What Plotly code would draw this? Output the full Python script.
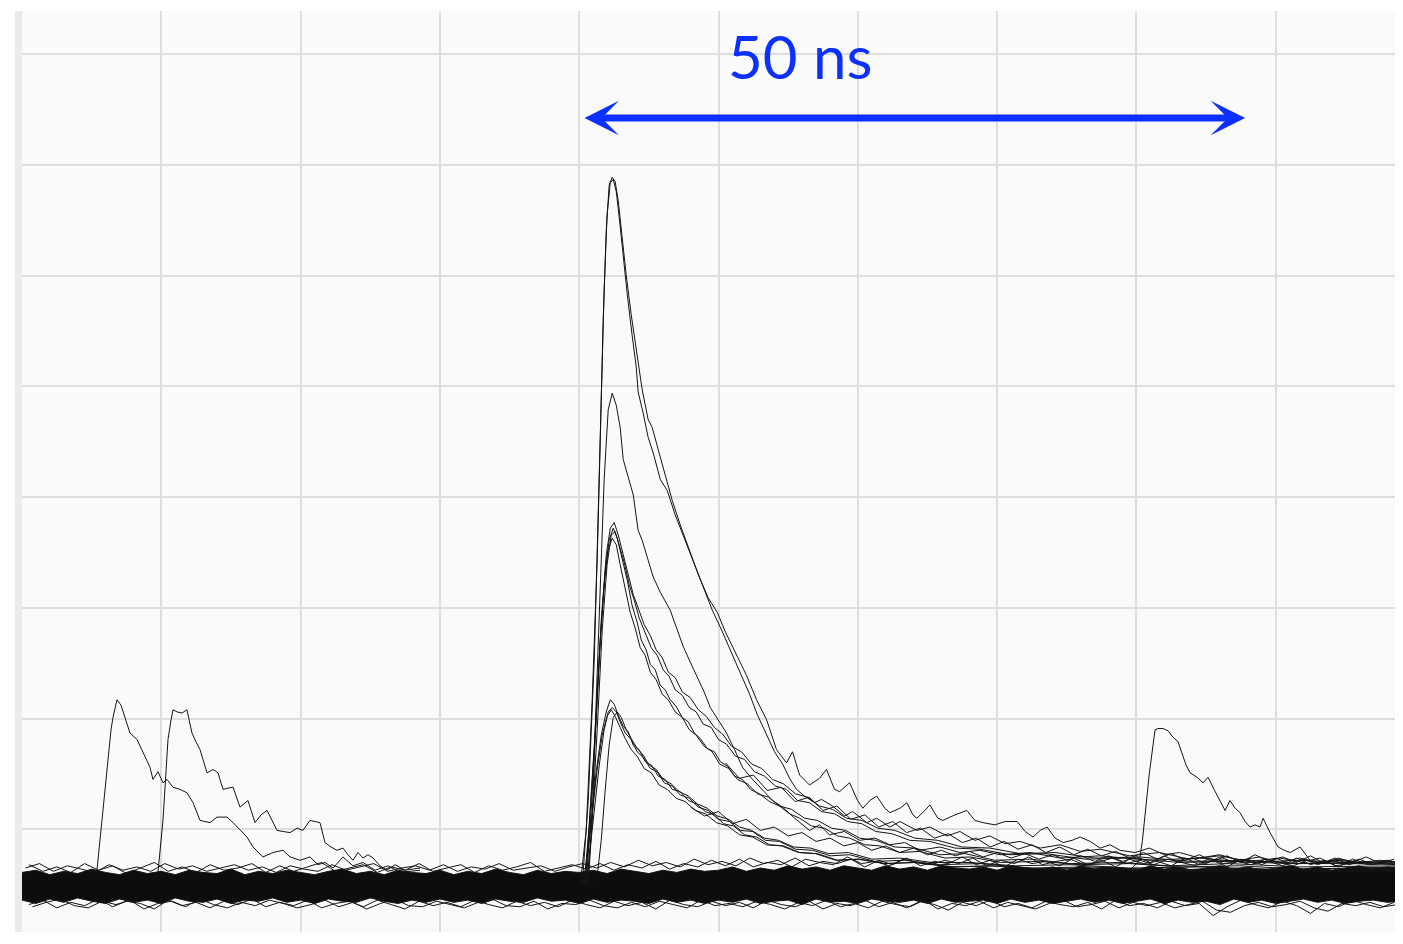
import plotly.graph_objects as go

# ---------------- data (time in ns, amplitude in mV) ----------------
# baseline noise band, sampled every 1 ns
band_t = [float(i) for i in range(100)]
band_top = [6.1, 6.3, 5.9, 6.2, 6.0, 6.4, 6.1, 5.9, 6.3, 6.0,
            6.2, 5.9, 6.3, 6.1, 6.0, 6.4, 5.9, 6.2, 6.0, 6.3,
            6.1, 5.9, 6.2, 6.4, 6.0, 6.2, 5.9, 6.3, 6.1, 6.0,
            6.3, 5.9, 6.2, 6.0, 6.4, 6.1, 5.9, 6.3, 6.0, 6.2,
            6.1, 6.3, 6.0, 6.4, 6.2, 6.0, 6.3, 6.1, 6.4, 6.2,
            6.3, 6.6, 6.2, 6.5, 6.3, 6.7, 6.4, 6.6, 6.3, 6.7,
            6.5, 6.3, 6.7, 6.4, 6.6, 6.3, 6.7, 6.5, 6.4, 6.6,
            6.3, 6.7, 6.5, 6.4, 6.6, 6.3, 6.7, 6.4, 6.6, 6.5,
            6.3, 6.7, 6.4, 6.6, 6.3, 6.5, 6.7, 6.4, 6.6, 6.3,
            6.5, 6.7, 6.4, 6.6, 6.3, 6.5, 6.7, 6.4, 6.6, 6.5]
band_bot = [3.6, 3.3, 3.7, 3.4, 3.8, 3.5, 3.3, 3.7, 3.4, 3.6,
            3.3, 3.8, 3.5, 3.4, 3.7, 3.3, 3.6, 3.5, 3.8, 3.4,
            3.6, 3.3, 3.7, 3.5, 3.4, 3.8, 3.5, 3.3, 3.6, 3.4,
            3.7, 3.4, 3.6, 3.3, 3.7, 3.5, 3.4, 3.8, 3.5, 3.6,
            3.3, 3.7, 3.4, 3.6, 3.5, 3.3, 3.7, 3.4, 3.6, 3.3,
            3.6, 3.4, 3.7, 3.3, 3.5, 3.6, 3.2, 3.7, 3.4, 3.5,
            3.3, 3.7, 3.5, 3.4, 3.6, 3.3, 3.7, 3.4, 3.5, 3.6,
            3.3, 3.7, 3.4, 3.6, 3.3, 3.5, 3.7, 3.4, 3.6, 3.3,
            3.5, 3.7, 3.3, 3.6, 3.4, 3.5, 3.2, 3.7, 3.4, 3.6,
            3.3, 3.5, 3.7, 3.4, 3.6, 3.3, 3.5, 3.6, 3.4, 3.5]
hair_t = [i + 0.5 for i in range(99)]
hair_up = [6.8, 6.2, 6.6, 6.1, 6.9, 6.3, 6.7, 6.0, 6.5, 7.0,
           6.2, 6.6, 6.1, 6.8, 6.3, 6.5, 6.9, 6.1, 6.7, 6.2,
           6.6, 7.0, 6.2, 6.5, 6.8, 6.1, 6.6, 6.3, 6.9, 6.2,
           6.5, 6.8, 6.1, 6.7, 6.3, 6.6, 7.0, 6.2, 6.5, 6.8,
           6.4, 6.9, 6.3, 6.8, 6.5, 7.1, 6.4, 6.9, 6.6, 7.2,
           6.7, 7.3, 6.6, 7.0, 6.8, 7.4, 6.7, 7.1, 6.9, 7.3,
           6.6, 7.2, 6.8, 7.4, 6.7, 7.1, 6.9, 7.5, 6.8, 7.2,
           6.6, 7.3, 6.9, 7.1, 6.7, 7.4, 6.8, 7.2, 6.6, 7.3,
           6.9, 7.1, 6.7, 7.4, 6.8, 7.2, 6.6, 7.3, 6.9, 7.1,
           6.7, 7.4, 6.8, 7.2, 6.6, 7.3, 6.9, 7.1, 6.8]
hair_dn = [3.2, 3.6, 2.9, 3.4, 3.1, 3.7, 3.0, 3.5, 3.3, 2.8,
           3.6, 3.1, 3.4, 2.9, 3.5, 3.2, 3.7, 3.0, 3.4, 3.1,
           3.6, 2.9, 3.3, 3.5, 3.0, 3.6, 3.2, 2.8, 3.5, 3.1,
           3.4, 3.0, 3.6, 3.2, 2.9, 3.5, 3.1, 3.4, 3.0, 3.6,
           3.2, 2.9, 3.5, 3.1, 3.4, 2.8, 3.6, 3.2, 3.0, 3.5,
           3.1, 3.4, 2.9, 3.6, 3.2, 3.0, 3.5, 2.8, 3.3, 3.1,
           3.6, 3.0, 3.4, 2.9, 3.5, 3.2, 2.7, 3.4, 3.1, 3.6,
           3.0, 3.3, 2.9, 3.5, 3.2, 3.0, 3.4, 2.8, 3.6, 3.1,
           3.3, 2.9, 3.5, 3.1, 3.3, 2.2, 3.0, 3.6, 3.2, 2.9,
           3.5, 3.1, 2.4, 3.3, 3.0, 3.6, 3.2, 2.9, 3.4]
hair2_up_t = [i + 0.25 for i in range(99)]
hair2_up = [6.5, 6.9, 6.2, 6.7, 6.4, 6.1, 6.8, 6.3, 6.6, 6.2,
            6.9, 6.4, 6.7, 6.2, 6.5, 6.8, 6.3, 6.6, 6.1, 6.7,
            6.4, 6.2, 6.8, 6.3, 6.6, 6.9, 6.2, 6.5, 6.7, 6.3,
            6.8, 6.2, 6.6, 6.4, 6.9, 6.3, 6.5, 6.7, 6.2, 6.6,
            6.9, 6.5, 7.0, 6.6, 7.2, 6.7, 7.0, 6.6, 7.3, 6.8,
            7.1, 6.7, 7.4, 6.9, 7.2, 6.6, 7.3, 7.0, 6.8, 7.5,
            6.9, 7.1, 6.7, 7.3, 7.0, 6.8, 7.2, 6.9, 7.4, 6.7,
            7.2, 6.9, 7.5, 6.8, 7.1, 7.3, 6.8, 7.0, 7.4, 6.9,
            7.2, 6.8, 7.3, 7.0, 6.7, 7.4, 6.9, 7.1, 6.8, 7.3,
            7.0, 6.7, 7.2, 6.9, 7.4, 6.8, 7.1, 6.9, 7.2]
hair2_dn_t = [i + 0.75 for i in range(99)]
hair2_dn = [3.0, 3.4, 3.7, 3.1, 2.9, 3.5, 3.2, 3.6, 2.8, 3.3,
            3.5, 3.0, 3.7, 3.2, 2.9, 3.4, 3.1, 3.6, 3.3, 2.9,
            3.2, 3.6, 3.0, 3.4, 2.8, 3.3, 3.7, 3.1, 3.0, 3.5,
            3.2, 2.9, 3.4, 3.7, 3.1, 3.0, 3.5, 2.8, 3.3, 3.2,
            3.6, 3.1, 2.9, 3.4, 3.0, 3.5, 3.2, 2.9, 3.6, 3.1,
            3.3, 3.0, 3.5, 3.2, 2.8, 3.4, 3.1, 3.6, 3.0, 3.3,
            2.9, 3.5, 3.2, 3.0, 3.6, 2.8, 3.3, 3.1, 3.5, 2.9,
            3.4, 3.1, 2.8, 3.3, 3.6, 3.0, 3.2, 3.5, 2.9, 3.4,
            3.1, 3.4, 2.9, 3.2, 3.5, 2.7, 2.5, 3.1, 3.4, 3.0,
            3.2, 3.5, 2.9, 2.6, 3.3, 3.1, 3.4, 3.0, 3.2]

# extra tails of the pulse cluster
tail1_t = [float(i) for i in range(48, 100)]
tail1_v = [12.0, 11.2, 11.6, 10.5, 10.9, 9.9, 10.2, 9.4, 9.7, 8.9,
           9.2, 8.5, 8.8, 8.1, 8.5, 7.9, 8.3, 7.7, 8.1, 7.6,
           8.0, 7.5, 7.9, 7.4, 7.8, 7.3, 7.7, 7.2, 7.6, 7.1,
           7.6, 7.1, 7.5, 7.0, 7.6, 7.0, 7.4, 6.9, 7.5, 7.0,
           7.3, 6.8, 7.4, 6.9, 7.3, 6.8, 7.2, 6.9, 7.3, 6.8,
           7.2, 6.9]
tail2_t = [i + 0.5 for i in range(50, 99)]
tail2_v = [16.0, 14.6, 14.9, 13.5, 13.8, 12.5, 12.9, 11.7, 12.1, 10.9,
           11.3, 10.2, 10.7, 9.7, 10.1, 9.2, 9.6, 8.8, 9.2, 8.4,
           8.9, 8.2, 8.6, 7.9, 8.4, 7.7, 8.2, 7.6, 8.0, 7.4,
           7.9, 7.3, 7.8, 7.2, 7.7, 7.1, 7.6, 7.0, 7.7, 7.1,
           7.5, 7.0, 7.6, 6.9, 7.4, 7.0, 7.5, 6.9, 7.3]

# large pulses
a1_t = [40.07, 40.5, 40.93, 41.29, 41.51, 41.72, 41.94, 42.15, 42.37, 42.58, 42.8, 43.09, 43.37, 43.73, 44.09,
        44.52, 44.95, 45.24, 45.67, 46.17, 46.68, 47.25, 47.83, 48.55, 49.26, 49.91, 50.5, 51.29, 52.01, 52.73,
        53.45, 54.16, 54.88, 55.31, 55.82, 56.53, 57.25, 57.75, 58.33, 58.69, 59.41, 59.98, 60.36, 60.86, 61.36,
        61.94, 62.3, 63.02, 63.52, 63.95, 64.24, 64.81, 65.17, 65.74, 66.1, 66.97, 67.83, 68.4, 68.98, 69.84,
        70.57, 71.44, 72.01, 72.58, 73.09, 73.59, 74.16, 74.74, 75.38, 75.96, 76.68, 77.4, 78.11, 78.83, 79.91,
        80.93, 82.01, 83.09, 84.52, 85.96, 87.4, 88.83, 90.29, 91.72, 93.16, 94.6, 96.03, 97.47, 99.1]
a1_v = [5.0, 9.9, 21.7, 34.3, 45.2, 56.0, 64.1, 68.2, 68.9, 68.5, 66.8, 63.2, 60.1, 56.5, 53.3,
        49.7, 47.0, 46.3, 44.3, 42.0, 39.7, 37.5, 35.4, 33.0, 30.9, 29.6, 27.8, 25.7, 23.9, 21.7,
        19.9, 17.2, 16.0, 17.0, 14.9, 14.0, 14.6, 15.4, 13.6, 13.4, 14.2, 12.6, 11.9, 12.6, 13.0,
        11.9, 11.5, 11.9, 12.4, 11.3, 11.0, 11.7, 12.2, 11.0, 10.8, 11.3, 11.7, 10.8, 10.6, 10.4,
        10.7, 10.7, 9.8, 9.3, 9.9, 10.2, 9.2, 8.8, 9.0, 9.3, 8.9, 8.3, 8.6, 8.1, 7.9,
        8.3, 7.7, 7.9, 7.4, 7.7, 7.2, 7.5, 7.0, 7.4, 7.0, 7.3, 7.0, 7.2, 7.0]
a2_t = [40.22, 40.65, 41.08, 41.36, 41.58, 41.79, 42.0, 42.23, 42.44, 42.66, 42.87, 43.16, 43.45, 43.8, 44.09,
        44.23, 44.59, 44.95, 45.31, 45.82, 46.32, 46.89, 47.47, 48.12, 48.83, 49.55, 50.22, 50.86, 51.51, 52.23,
        52.8, 53.37, 54.02, 54.6, 55.1, 55.6, 56.17, 56.89, 57.39, 58.18, 59.05, 59.62, 60.65, 61.36, 62.3,
        63.02, 64.24, 65.17, 66.4, 67.33, 68.4, 69.48, 70.57, 71.65, 73.09, 74.52, 75.96, 77.4, 79.5, 81.65,
        83.81, 85.96, 88.11, 90.29, 92.44, 94.6, 96.75, 99.1]
a2_v = [5.0, 12.6, 25.3, 37.9, 48.8, 58.7, 65.5, 68.4, 68.7, 67.6, 65.3, 61.5, 58.3, 54.6, 51.8,
        49.5, 47.6, 45.4, 44.0, 41.6, 40.6, 38.4, 36.5, 34.3, 32.0, 29.8, 28.0, 26.1, 24.3, 22.2,
        20.3, 18.7, 17.0, 15.9, 14.6, 13.6, 13.0, 12.4, 12.7, 12.1, 11.2, 11.6, 10.6, 11.0, 10.2,
        10.7, 9.9, 10.2, 9.4, 9.8, 9.0, 9.4, 8.7, 8.9, 8.3, 8.6, 8.0, 8.2, 7.6, 7.9,
        7.3, 7.6, 7.1, 7.4, 6.9, 7.2, 6.8, 7.1]
b_t = [40.65, 40.93, 41.22, 41.51, 41.79, 42.08, 42.37, 42.66, 42.94, 43.16, 43.52, 43.88, 44.23, 44.52, 44.95,
       45.31, 45.82, 46.53, 47.04, 47.47, 47.97, 48.47, 48.97, 49.41, 49.98, 50.57, 51.15, 51.72, 52.37, 53.16,
       53.88, 54.6, 55.46, 56.53, 57.25, 57.97, 59.05, 60.14, 61.22, 62.3, 63.37, 64.45, 65.89, 67.33, 68.76,
       70.22, 72.37, 74.52, 77.4, 80.93, 84.52, 88.11, 91.72, 95.31, 99.1]
b_v = [5.0, 10.8, 21.7, 32.5, 41.6, 47.9, 49.4, 48.3, 46.3, 43.4, 41.7, 40.2, 37.0, 36.1, 34.3,
       32.8, 31.4, 29.8, 28.0, 26.5, 25.1, 23.8, 22.4, 21.0, 19.9, 18.7, 17.2, 15.6, 14.6, 13.6,
       12.6, 12.0, 11.0, 9.9, 10.4, 9.5, 9.8, 9.0, 9.2, 8.6, 8.8, 8.1, 8.4, 7.9, 8.1,
       7.7, 7.9, 7.4, 7.6, 7.2, 7.4, 7.0, 7.2, 7.0, 7.1]

# medium cluster (peak ~37 mV)
c1_t = [40.43, 40.79, 41.15, 41.51, 41.87, 42.15, 42.44, 42.73, 43.09, 43.45, 43.8, 44.16, 44.45, 44.81, 45.1,
        45.46, 45.82, 46.17, 46.53, 46.96, 47.4, 47.83, 48.26, 48.69, 49.19, 49.7, 50.14, 50.65, 51.15, 51.72,
        52.3, 52.94, 53.66, 54.38, 55.1, 55.82, 56.67, 57.61, 58.54, 59.41, 60.5, 61.58, 63.02, 64.45, 66.25,
        68.05, 70.22, 73.09, 75.96, 79.5, 83.09, 87.4, 91.72, 99.1]
c1_v = [5.0, 11.3, 18.5, 27.1, 33.4, 36.1, 37.2, 36.3, 34.3, 32.5, 30.2, 28.7, 27.1, 26.2, 24.9,
        24.4, 23.0, 22.6, 21.7, 21.1, 20.1, 19.7, 18.7, 18.2, 17.3, 17.0, 16.1, 15.7, 14.8, 14.5,
        13.6, 13.2, 12.5, 12.1, 11.4, 11.0, 10.3, 10.1, 9.4, 9.2, 8.6, 8.5, 7.9, 8.0, 7.4,
        7.5, 7.0, 7.1, 6.8, 6.9, 6.6, 6.7, 6.4, 6.6]
c2_t = [40.57, 40.93, 41.29, 41.65, 42.0, 42.3, 42.58, 42.87, 43.23, 43.59, 43.95, 44.3, 44.74, 45.17, 45.6,
        46.03, 46.46, 46.89, 47.4, 47.9, 48.4, 48.9, 49.48, 50.0, 50.57, 51.22, 51.87, 52.58, 53.3, 54.09,
        54.88, 55.67, 56.53, 57.39, 58.33, 59.26, 60.29, 61.29, 62.44, 63.73, 65.17, 66.97, 68.76, 70.93, 73.45,
        76.32, 79.5, 83.09, 86.68, 91.0, 95.31, 99.1]
c2_v = [5.0, 10.8, 19.0, 28.0, 33.9, 36.6, 36.9, 35.7, 34.1, 32.1, 30.7, 29.1, 27.8, 26.4, 25.7,
        24.4, 23.8, 22.6, 22.1, 21.0, 20.6, 19.5, 19.2, 18.1, 17.7, 16.6, 16.3, 15.2, 14.8, 13.9,
        13.6, 12.6, 12.4, 11.6, 11.4, 10.7, 10.5, 9.8, 9.6, 9.0, 8.9, 8.3, 8.2, 7.7, 7.8,
        7.3, 7.4, 7.0, 7.1, 6.9, 6.9, 6.8]
c3_t = [40.36, 40.72, 41.08, 41.44, 41.79, 42.08, 42.37, 42.66, 42.94, 43.3, 43.66, 44.01, 44.38, 44.74, 45.1,
        45.53, 45.96, 46.39, 46.89, 47.4, 47.9, 48.4, 48.97, 49.55, 50.07, 50.72, 51.36, 52.08, 52.8, 53.59,
        54.38, 55.24, 56.17, 57.1, 58.11, 59.12, 60.14, 61.29, 62.66, 64.09, 65.89, 67.69, 69.84, 72.37, 75.24,
        78.83, 82.37, 86.68, 91.72, 99.1]
c3_v = [5.0, 10.4, 17.6, 25.7, 32.1, 35.2, 36.3, 35.7, 33.9, 31.6, 29.6, 28.2, 26.4, 25.7, 24.2,
        23.5, 22.2, 21.7, 20.6, 20.1, 19.0, 18.5, 17.5, 17.0, 15.9, 15.5, 14.5, 14.1, 13.2, 12.9,
        12.1, 11.8, 11.0, 10.8, 10.1, 9.9, 9.2, 9.0, 8.4, 8.3, 7.7, 7.8, 7.2, 7.3, 6.9,
        7.0, 6.7, 6.9, 6.6, 6.7]
c4_t = [40.5, 40.86, 41.22, 41.58, 41.94, 42.23, 42.51, 42.8, 43.16, 43.52, 43.88, 44.23, 44.66, 45.1, 45.53,
        45.96, 46.39, 46.89, 47.4, 47.97, 48.55, 49.12, 49.7, 50.29, 50.93, 51.65, 52.37, 53.09, 53.88, 54.67,
        55.53, 56.39, 57.25, 58.18, 59.19, 60.29, 61.43, 62.66, 64.09, 65.74, 67.47, 69.48, 71.65, 74.16, 77.04,
        80.22, 83.81, 87.76, 91.72, 95.31, 99.1]
c4_v = [5.0, 11.7, 19.9, 28.9, 34.8, 37.2, 37.7, 36.6, 34.8, 33.0, 31.2, 30.0, 28.5, 27.5, 26.2,
        25.5, 24.2, 23.7, 22.4, 21.9, 20.8, 20.2, 19.2, 18.6, 17.5, 17.0, 15.9, 15.5, 14.5, 14.1,
        13.2, 12.9, 12.1, 11.8, 11.0, 10.8, 10.1, 9.9, 9.2, 9.0, 8.4, 8.3, 7.8, 7.9, 7.4,
        7.5, 7.1, 7.2, 6.9, 7.0, 6.9]

# small cluster (peak ~21 mV)
d1_t = [40.29, 40.79, 41.22, 41.58, 41.94, 42.23, 42.51, 42.8, 43.16, 43.52, 43.88, 44.3, 44.74, 45.17, 45.67,
        46.17, 46.68, 47.25, 47.83, 48.4, 49.05, 49.7, 50.36, 51.08, 51.87, 52.73, 53.66, 54.67, 55.82, 57.1,
        58.54, 60.14, 61.94, 64.09, 66.61, 69.48, 73.09, 77.4, 83.09, 88.83, 94.6, 99.1]
d1_v = [5.0, 9.9, 15.2, 18.5, 20.6, 21.7, 21.3, 20.3, 19.3, 18.8, 17.6, 17.2, 16.1, 15.8, 14.8,
        14.5, 13.6, 13.4, 12.6, 12.3, 11.6, 11.3, 10.5, 10.3, 9.5, 9.3, 8.6, 8.5, 7.9, 7.8,
        7.2, 7.3, 6.9, 7.0, 6.6, 6.7, 6.4, 6.5, 6.3, 6.4, 6.2, 6.3]
d2_t = [40.5, 41.0, 41.44, 41.79, 42.08, 42.37, 42.66, 42.94, 43.3, 43.73, 44.16, 44.59, 45.1, 45.6, 46.1,
        46.68, 47.25, 47.9, 48.55, 49.26, 49.98, 50.79, 51.58, 52.44, 53.37, 54.38, 55.53, 56.75, 58.04, 59.41,
        61.22, 63.37, 65.89, 68.76, 72.37, 76.68, 81.65, 87.4, 93.16, 99.1]
d2_v = [5.0, 10.8, 15.8, 19.0, 20.6, 21.0, 20.6, 19.7, 18.7, 18.1, 17.0, 16.5, 15.5, 15.2, 14.2,
        13.9, 13.1, 12.8, 12.0, 11.7, 10.9, 10.7, 9.9, 9.8, 9.0, 8.9, 8.2, 8.1, 7.6, 7.7,
        7.1, 7.2, 6.8, 6.9, 6.5, 6.6, 6.3, 6.5, 6.2, 6.4]
d3_t = [41.22, 41.58, 41.87, 42.15, 42.44, 42.73, 43.02, 43.37, 43.73, 44.16, 44.59, 45.03, 45.53, 46.03, 46.6,
        47.18, 47.83, 48.47, 49.19, 49.91, 50.72, 51.51, 52.37, 53.3, 54.31, 55.38, 56.6, 57.9, 59.33, 61.0,
        63.02, 65.31, 68.05, 71.29, 75.24, 79.5, 84.52, 90.29, 96.03, 99.1]
d3_v = [5.0, 9.0, 13.6, 17.6, 20.1, 20.6, 20.1, 19.0, 18.2, 17.3, 16.7, 15.8, 15.4, 14.5, 14.1,
        13.4, 13.0, 12.3, 11.9, 11.2, 10.9, 10.2, 9.9, 9.2, 9.0, 8.4, 8.3, 7.8, 7.9, 7.3,
        7.4, 7.0, 7.0, 6.7, 6.8, 6.5, 6.6, 6.3, 6.5, 6.4]
d4_t = [40.36, 40.86, 41.29, 41.65, 42.0, 42.3, 42.58, 42.94, 43.3, 43.73, 44.16, 44.66, 45.17, 45.74, 46.32,
        46.96, 47.61, 48.33, 49.05, 49.84, 50.65, 51.51, 52.44, 53.45, 54.52, 55.74, 56.96, 58.4, 59.98, 61.94,
        64.09, 66.97, 70.22, 74.52, 79.5, 85.24, 91.72, 99.1]
d4_v = [5.0, 10.4, 15.4, 18.5, 20.2, 20.8, 20.2, 19.2, 18.2, 17.2, 16.6, 15.5, 15.1, 14.0, 13.6,
        12.8, 12.5, 11.7, 11.4, 10.6, 10.3, 9.5, 9.3, 8.6, 8.5, 7.9, 7.8, 7.2, 7.3, 6.9,
        7.0, 6.6, 6.7, 6.3, 6.4, 6.2, 6.3, 6.2]

# isolated pulses (left two, right one)
e_t = [4.88, 5.38, 5.74, 6.1, 6.39, 6.53, 6.82, 7.11, 7.39, 7.75, 8.26, 8.69, 9.19, 9.4, 9.76,
       10.12, 10.41, 10.84, 11.34, 11.84, 12.28, 12.78, 13.5, 14.0, 14.72, 15.15, 15.65, 16.15, 16.58, 17.3,
       18.02, 18.74, 19.24, 19.96, 20.67, 21.25, 21.75, 22.33, 23.04, 23.76, 24.48, 25.34, 26.27, 27.14, 28.57]
e_v = [5.4, 6.3, 10.8, 15.4, 19.0, 20.1, 21.7, 21.2, 20.1, 18.7, 18.1, 16.9, 15.6, 14.5, 15.2,
       14.2, 14.5, 13.8, 13.6, 13.3, 12.4, 10.8, 10.6, 11.1, 11.1, 10.6, 9.9, 9.3, 8.4, 7.5,
       7.9, 8.1, 7.5, 7.2, 7.5, 6.8, 7.0, 6.5, 7.5, 6.7, 7.0, 6.3, 6.7, 6.1, 6.3]
f_t = [9.33, 9.76, 10.12, 10.34, 10.48, 10.7, 10.84, 11.13, 11.49, 11.84, 12.2, 12.49, 12.78, 13.28, 13.71,
       14.07, 14.43, 14.72, 15.15, 15.65, 16.22, 16.73, 17.16, 17.59, 17.95, 18.31, 18.74, 19.24, 19.74, 20.17,
       20.67, 21.18, 21.39, 21.75, 22.18, 22.61, 23.04, 23.4, 23.76, 24.12, 24.48, 24.84, 25.2, 25.7, 26.2,
       26.78, 27.49, 28.57]
f_v = [5.4, 6.1, 10.8, 15.4, 18.1, 19.9, 20.8, 20.6, 20.5, 20.8, 18.7, 17.9, 17.2, 15.1, 15.4,
       15.1, 13.6, 13.7, 13.8, 12.0, 12.6, 10.6, 11.3, 11.7, 10.8, 9.9, 9.8, 9.7, 10.1, 9.9,
       10.8, 10.7, 10.6, 8.8, 8.4, 8.1, 8.3, 7.7, 7.2, 7.9, 7.4, 7.7, 7.4, 6.7, 6.3,
       6.8, 6.3, 6.5]
g_t = [79.68, 80.22, 80.43, 80.72, 80.93, 81.19, 81.34, 81.55, 81.91, 82.27, 82.63, 82.99, 83.27, 83.56, 83.85,
       84.35, 84.78, 85.14, 85.57, 86.0, 86.36, 86.72, 87.08, 87.44, 87.8, 88.15, 88.51, 88.87, 89.09, 89.59,
       90.17, 90.6, 91.03, 91.74, 92.46, 93.18, 94.26, 95.33]
g_v = [6.5, 7.2, 9.0, 12.6, 15.1, 17.6, 19.0, 19.1, 19.1, 18.9, 18.3, 17.9, 16.9, 15.8, 15.1,
       14.7, 14.2, 14.7, 13.6, 12.6, 11.7, 12.6, 11.9, 11.5, 10.7, 10.2, 10.4, 10.2, 11.0, 9.7,
       8.4, 8.1, 7.9, 8.4, 7.2, 7.4, 6.7, 6.9]

pulses = [(a1_t, a1_v), (a2_t, a2_v), (b_t, b_v),
          (c1_t, c1_v), (c2_t, c2_v), (c3_t, c3_v), (c4_t, c4_v),
          (d1_t, d1_v), (d2_t, d2_v), (d3_t, d3_v), (d4_t, d4_v),
          (e_t, e_v), (f_t, f_v), (g_t, g_v),
          (tail1_t, tail1_v), (tail2_t, tail2_v)]
hairs = [(hair_t, hair_up), (hair_t, hair_dn), (hair2_up_t, hair2_up), (hair2_dn_t, hair2_dn)]

span_start, span_end, span_level = 40.27, 87.8, 74.25
label_x, label_y = 55.85, 79.9
span_label = "50 ns"

# ---------------- figure ----------------
TRACE = "#141414"
BLUE = "#0b30ff"

fig = go.Figure()
fig.add_trace(go.Scatter(x=band_t, y=band_bot, mode="lines",
                         line=dict(color=TRACE, width=1), hoverinfo="skip"))
fig.add_trace(go.Scatter(x=band_t, y=band_top, mode="lines", fill="tonexty",
                         fillcolor="#0d0d0d", line=dict(color=TRACE, width=1), hoverinfo="skip"))
for t, v in hairs:
    fig.add_trace(go.Scatter(x=t, y=v, mode="lines",
                             line=dict(color=TRACE, width=1), hoverinfo="skip"))
for t, v in pulses:
    fig.add_trace(go.Scatter(x=t, y=v, mode="lines",
                             line=dict(color=TRACE, width=1), hoverinfo="skip"))

fig.add_annotation(x=span_end, y=span_level, ax=span_start, ay=span_level,
                   xref="x", yref="y", axref="x", ayref="y", text="",
                   showarrow=True, arrowside="end+start",
                   arrowhead=3, startarrowhead=3,
                   arrowsize=0.82, startarrowsize=0.82,
                   arrowwidth=7, arrowcolor=BLUE)
fig.add_annotation(x=label_x, y=label_y, xref="x", yref="y",
                   text=span_label, showarrow=False, xanchor="center", yanchor="middle",
                   font=dict(family="Liberation Sans Narrow, Lato, sans-serif", size=60, color=BLUE))

fig.add_shape(type="rect", xref="paper", yref="paper", x0=-7 / 1373, x1=0, y0=0, y1=1,
              fillcolor="#ebebeb", line=dict(width=0), layer="below")

axis_common = dict(showticklabels=False, ticks="", zeroline=False, showline=False,
                   gridcolor="#dedede", gridwidth=1.5, dtick=10, tick0=0)
fig.update_xaxes(range=[0, 98.56], **axis_common)
fig.update_yaxes(range=[0.72, 83.92], **axis_common)
# the page body adds an 8 px margin; keep the page within the 1403x944 window
fig.update_layout(width=1387, height=924, margin=dict(l=14, r=0, t=3, b=0),
                  paper_bgcolor="white", plot_bgcolor="#fafafa", showlegend=False)

fig.write_html("out.html")
